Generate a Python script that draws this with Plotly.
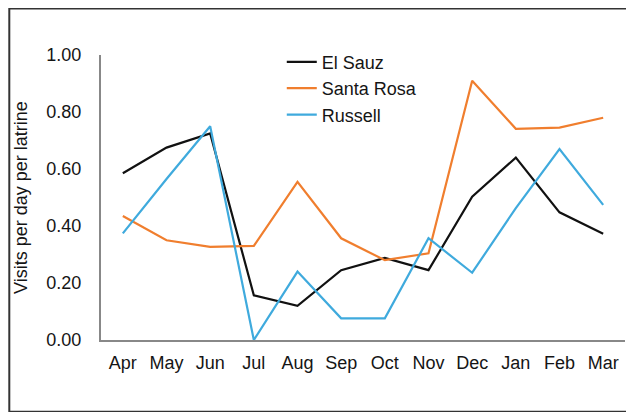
import plotly.graph_objects as go

# months of the study year
months = ['Apr', 'May', 'Jun', 'Jul', 'Aug', 'Sep', 'Oct', 'Nov', 'Dec', 'Jan', 'Feb', 'Mar']

# visits per day per latrine
el_sauz = [0.585, 0.675, 0.725, 0.157, 0.12, 0.245, 0.288, 0.245, 0.503, 0.64, 0.448, 0.373]
santa_rosa = [0.435, 0.35, 0.327, 0.33, 0.555, 0.357, 0.28, 0.304, 0.91, 0.741, 0.745, 0.78]
russell = [0.374, 0.565, 0.75, 0.0, 0.24, 0.076, 0.076, 0.357, 0.236, 0.463, 0.67, 0.474]

series = [
    ('El Sauz', el_sauz, '#111111'),
    ('Santa Rosa', santa_rosa, '#F07E2E'),
    ('Russell', russell, '#3FAADD'),
]

fig = go.Figure()
for name, vals, col in series:
    fig.add_trace(go.Scatter(
        x=months, y=vals, name=name, mode='lines',
        line=dict(color=col, width=2.2),
    ))

font = 'Liberation Sans, Arial, sans-serif'

# the page body adds an 8px margin, so the figure is sized 8px smaller
fig.update_layout(
    width=626, height=404,
    margin=dict(l=93, r=9, t=47, b=72),
    paper_bgcolor='white', plot_bgcolor='white',
    font=dict(family=font, size=18, color='#151515'),
    showlegend=True,
    legend=dict(
        x=0.345, y=1.04, xanchor='left', yanchor='top',
        bgcolor='rgba(0,0,0,0)', font=dict(size=18),
        itemwidth=30, tracegroupgap=0,
    ),
    xaxis=dict(
        range=[-0.5, 11.5], showgrid=False, zeroline=False,
        showline=True, linecolor='#888', linewidth=2,
        ticks='', ticklabelstandoff=5,
    ),
    yaxis=dict(
        range=[0, 1.0], dtick=0.2, tickformat='.2f',
        showgrid=False, zeroline=False,
        showline=True, linecolor='#888', linewidth=2,
        ticks='', ticklabelstandoff=14,
        title=dict(text='Visits per day per latrine', font=dict(size=18), standoff=14),
    ),
)

# outer frame around the whole chart
fig.add_shape(type='rect', xref='paper', yref='paper',
              x0=-0.175, x1=1.04, y0=-0.252, y1=1.163,
              line=dict(color='#333', width=2), layer='below')

fig.write_html('out.html')
